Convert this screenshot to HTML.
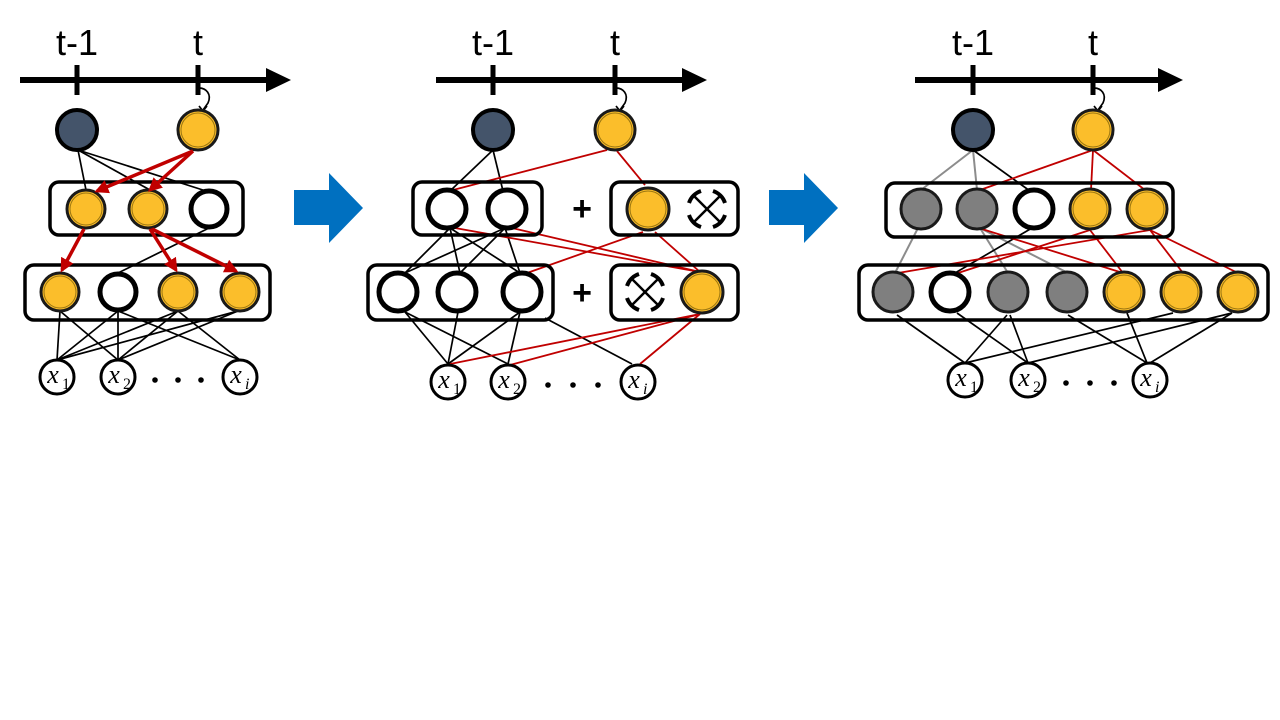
<!DOCTYPE html>
<html><head><meta charset="utf-8"><style>
html,body{margin:0;padding:0;background:#fff;}
svg{display:block;}
text{font-family:"Liberation Sans",sans-serif;}
.ax{stroke:#000;stroke-width:6;}
.tk{stroke:#000;stroke-width:5;}
.bx{fill:none;stroke:#000;stroke-width:3.5;}
.w{fill:#fff;stroke:#000;stroke-width:5;}
.y{fill:#FBBE2B;stroke:#1a1a1a;stroke-width:3;}
.yi{fill:none;stroke:#9a7510;stroke-width:1;}
.g{fill:#7f7f7f;stroke:#1a1a1a;stroke-width:3;}
.d{fill:#44546A;stroke:#000;stroke-width:4;}
.in{fill:#fff;stroke:#000;stroke-width:3;}
.bl{stroke:#000;stroke-width:1.7;fill:none;}
.rd{stroke:#C00000;stroke-width:1.8;fill:none;}
.gr{stroke:#8c8c8c;stroke-width:2;fill:none;}
.ra{stroke:#C00000;stroke-width:3.5;fill:none;marker-end:url(#ah);}
.lbl{font-size:36px;text-anchor:middle;}
.xl{font-family:"Liberation Serif",serif;font-style:italic;font-size:26px;text-anchor:middle;}
.sub{font-family:"Liberation Serif",serif;font-size:16px;font-style:italic;}
.subn{font-family:"Liberation Serif",serif;font-size:16px;}
</style></head><body>
<svg width="1280" height="720" viewBox="0 0 1280 720" xmlns="http://www.w3.org/2000/svg">
<defs>
<marker id="ah" markerWidth="4" markerHeight="4" refX="3.2" refY="2" orient="auto" markerUnits="strokeWidth"><path d="M0,0 L4,2 L0,4 z" fill="#C00000"/></marker>
<g id="drop">
<line x1="-14" y1="-14" x2="14" y2="14" stroke="#000" stroke-width="2.5"/>
<line x1="14" y1="-14" x2="-14" y2="14" stroke="#000" stroke-width="2.5"/>
<path d="M-6,-18 A19,19 0 0 0 -18,-6 M6,-18 A19,19 0 0 1 18,-6 M-18,6 A19,19 0 0 0 -6,18 M18,6 A19,19 0 0 1 6,18" fill="none" stroke="#000" stroke-width="4"/>
</g>
</defs>

<polygon points="294,190 329,190 329,173 363,208 329,243 329,225 294,225" fill="#0070C0"/>
<polygon points="769,190 804,190 804,173 838,208 804,243 804,225 769,225" fill="#0070C0"/>

<!-- PANEL 1 -->
<text x="77" y="55" class="lbl">t-1</text>
<text x="198" y="55" class="lbl">t</text>
<line x1="20" y1="80" x2="270" y2="80" class="ax"/>
<polygon points="266,68 291,80 266,92" fill="#000"/>
<line x1="77" y1="65" x2="77" y2="95" class="tk"/>
<line x1="198" y1="65" x2="198" y2="95" class="tk"/>
<path d="M199,88 C206,88 212,94 208,103 L203,110" class="bl"/>
<path d="M199,106 L203,111 L207,106" class="bl"/>

<line x1="78" y1="150" x2="86" y2="190" class="bl"/>
<line x1="78" y1="150" x2="150" y2="190" class="bl"/>
<line x1="78" y1="150" x2="206" y2="191" class="bl"/>
<line x1="209" y1="228" x2="118" y2="273" class="bl"/>
<line x1="60" y1="311" x2="57" y2="360" class="bl"/>
<line x1="60" y1="311" x2="118" y2="360" class="bl"/>
<line x1="118" y1="311" x2="57" y2="360" class="bl"/>
<line x1="118" y1="311" x2="118" y2="360" class="bl"/>
<line x1="118" y1="311" x2="240" y2="360" class="bl"/>
<line x1="178" y1="311" x2="57" y2="360" class="bl"/>
<line x1="178" y1="311" x2="118" y2="360" class="bl"/>
<line x1="178" y1="311" x2="240" y2="360" class="bl"/>
<line x1="238" y1="311" x2="57" y2="360" class="bl"/>
<line x1="238" y1="311" x2="118" y2="360" class="bl"/>

<rect x="50" y="182" width="193" height="53" rx="9" class="bx"/>
<rect x="25" y="265" width="245" height="55" rx="9" class="bx"/>

<circle cx="77" cy="130" r="20" class="d"/>
<circle cx="198" cy="130" r="20" class="y"/><circle cx="198" cy="130" r="17" class="yi"/>
<circle cx="86" cy="209" r="19" class="y"/><circle cx="86" cy="209" r="16" class="yi"/>
<circle cx="148" cy="209" r="19" class="y"/><circle cx="148" cy="209" r="16" class="yi"/>
<circle cx="209" cy="209" r="18" class="w"/>
<circle cx="60" cy="292" r="19" class="y"/><circle cx="60" cy="292" r="16" class="yi"/>
<circle cx="118" cy="292" r="18" class="w"/>
<circle cx="178" cy="292" r="19" class="y"/><circle cx="178" cy="292" r="16" class="yi"/>
<circle cx="240" cy="292" r="19" class="y"/><circle cx="240" cy="292" r="16" class="yi"/>

<line x1="193" y1="151" x2="97" y2="191" class="ra"/>
<line x1="193" y1="151" x2="150" y2="190" class="ra"/>
<line x1="84" y1="229" x2="62" y2="270" class="ra"/>
<line x1="150" y1="229" x2="176" y2="270" class="ra"/>
<line x1="152" y1="229" x2="236" y2="271" class="ra"/>

<circle cx="57" cy="377" r="17" class="in"/><text x="53" y="383" class="xl">x</text><text x="62" y="389" class="subn">1</text>
<circle cx="118" cy="377" r="17" class="in"/><text x="114" y="383" class="xl">x</text><text x="123" y="389" class="subn">2</text>
<circle cx="240" cy="377" r="17" class="in"/><text x="236" y="383" class="xl">x</text><text x="245" y="389" class="sub">i</text>
<circle cx="155" cy="380" r="2.8"/><circle cx="178" cy="380" r="2.8"/><circle cx="201" cy="380" r="2.8"/>

<!-- PANEL 2 -->
<text x="493" y="55" class="lbl">t-1</text>
<text x="615" y="55" class="lbl">t</text>
<line x1="436" y1="80" x2="686" y2="80" class="ax"/>
<polygon points="682,68 707,80 682,92" fill="#000"/>
<line x1="493" y1="65" x2="493" y2="95" class="tk"/>
<line x1="615" y1="65" x2="615" y2="95" class="tk"/>
<path d="M616,88 C623,88 629,94 625,103 L620,110" class="bl"/>
<path d="M616,106 L620,111 L624,106" class="bl"/>

<line x1="493" y1="150" x2="450" y2="191" class="bl"/>
<line x1="493" y1="150" x2="503" y2="191" class="bl"/>
<line x1="450" y1="228" x2="405" y2="273" class="bl"/>
<line x1="450" y1="228" x2="460" y2="273" class="bl"/>
<line x1="450" y1="228" x2="520" y2="273" class="bl"/>
<line x1="505" y1="228" x2="405" y2="273" class="bl"/>
<line x1="505" y1="228" x2="460" y2="273" class="bl"/>
<line x1="505" y1="228" x2="520" y2="273" class="bl"/>
<line x1="405" y1="312" x2="448" y2="364" class="bl"/>
<line x1="405" y1="312" x2="508" y2="364" class="bl"/>
<line x1="458" y1="312" x2="448" y2="364" class="bl"/>
<line x1="520" y1="312" x2="448" y2="364" class="bl"/>
<line x1="520" y1="312" x2="508" y2="364" class="bl"/>
<line x1="545" y1="318" x2="632" y2="364" class="bl"/>

<line x1="607" y1="150" x2="453" y2="190" class="rd"/>
<line x1="617" y1="151" x2="645" y2="185" class="rd"/>
<line x1="455" y1="228" x2="700" y2="272" class="rd"/>
<line x1="512" y1="228" x2="700" y2="272" class="rd"/>
<line x1="643" y1="232" x2="527" y2="273" class="rd"/>
<line x1="655" y1="232" x2="700" y2="272" class="rd"/>
<line x1="700" y1="314" x2="450" y2="364" class="rd"/>
<line x1="700" y1="314" x2="510" y2="365" class="rd"/>
<line x1="700" y1="314" x2="640" y2="364" class="rd"/>

<rect x="413" y="182" width="129" height="53" rx="9" class="bx"/>
<rect x="611" y="182" width="127" height="53" rx="9" class="bx"/>
<rect x="368" y="265" width="185" height="55" rx="9" class="bx"/>
<rect x="611" y="265" width="127" height="55" rx="9" class="bx"/>
<text x="582" y="220" class="lbl" style="font-size:34px;font-weight:bold">+</text>
<text x="582" y="304" class="lbl" style="font-size:34px;font-weight:bold">+</text>

<circle cx="493" cy="130" r="20" class="d"/>
<circle cx="615" cy="130" r="20" class="y"/><circle cx="615" cy="130" r="17" class="yi"/>
<circle cx="447" cy="209" r="19" class="w"/>
<circle cx="507" cy="209" r="19" class="w"/>
<circle cx="648" cy="209" r="21" class="y"/><circle cx="648" cy="209" r="18" class="yi"/>
<use href="#drop" x="707" y="209"/>
<circle cx="398" cy="292" r="19" class="w"/>
<circle cx="457" cy="292" r="19" class="w"/>
<circle cx="522" cy="292" r="19" class="w"/>
<use href="#drop" x="645" y="292"/>
<circle cx="702" cy="292" r="21" class="y"/><circle cx="702" cy="292" r="18" class="yi"/>

<circle cx="448" cy="382" r="17" class="in"/><text x="444" y="388" class="xl">x</text><text x="453" y="394" class="subn">1</text>
<circle cx="508" cy="382" r="17" class="in"/><text x="504" y="388" class="xl">x</text><text x="513" y="394" class="subn">2</text>
<circle cx="638" cy="382" r="17" class="in"/><text x="634" y="388" class="xl">x</text><text x="643" y="394" class="sub">i</text>
<circle cx="548" cy="385" r="2.8"/><circle cx="573" cy="385" r="2.8"/><circle cx="598" cy="385" r="2.8"/>

<!-- PANEL 3 -->
<text x="973" y="55" class="lbl">t-1</text>
<text x="1093" y="55" class="lbl">t</text>
<line x1="915" y1="80" x2="1162" y2="80" class="ax"/>
<polygon points="1158,68 1183,80 1158,92" fill="#000"/>
<line x1="973" y1="65" x2="973" y2="95" class="tk"/>
<line x1="1093" y1="65" x2="1093" y2="95" class="tk"/>
<path d="M1094,88 C1101,88 1107,94 1103,103 L1098,110" class="bl"/>
<path d="M1094,106 L1098,111 L1102,106" class="bl"/>

<line x1="973" y1="150" x2="921" y2="190" class="gr"/>
<line x1="973" y1="150" x2="977" y2="190" class="gr"/>
<line x1="973" y1="150" x2="1030" y2="191" class="bl"/>
<line x1="918" y1="228" x2="895" y2="273" class="gr"/>
<line x1="980" y1="228" x2="1008" y2="273" class="gr"/>
<line x1="980" y1="228" x2="1068" y2="273" class="gr"/>
<line x1="1032" y1="228" x2="955" y2="273" class="bl"/>
<line x1="1093" y1="150" x2="980" y2="190" class="rd"/>
<line x1="1093" y1="150" x2="1091" y2="190" class="rd"/>
<line x1="1093" y1="150" x2="1145" y2="190" class="rd"/>
<line x1="982" y1="229" x2="1123" y2="273" class="rd"/>
<line x1="1090" y1="230" x2="958" y2="273" class="rd"/>
<line x1="1090" y1="230" x2="1123" y2="273" class="rd"/>
<line x1="1150" y1="230" x2="898" y2="273" class="rd"/>
<line x1="1150" y1="230" x2="1183" y2="273" class="rd"/>
<line x1="1150" y1="230" x2="1238" y2="273" class="rd"/>

<line x1="897" y1="315" x2="965" y2="363" class="bl"/>
<line x1="957" y1="313" x2="1028" y2="363" class="bl"/>
<line x1="1007" y1="315" x2="965" y2="363" class="bl"/>
<line x1="1010" y1="315" x2="1028" y2="363" class="bl"/>
<line x1="1068" y1="315" x2="1147" y2="363" class="bl"/>
<line x1="1127" y1="313" x2="1147" y2="363" class="bl"/>
<line x1="1173" y1="313" x2="965" y2="363" class="bl"/>
<line x1="1232" y1="313" x2="1028" y2="363" class="bl"/>
<line x1="1232" y1="313" x2="1150" y2="363" class="bl"/>

<rect x="886" y="183" width="287" height="54" rx="9" class="bx"/>
<rect x="859" y="265" width="409" height="55" rx="9" class="bx"/>

<circle cx="973" cy="130" r="20" class="d"/>
<circle cx="1093" cy="130" r="20" class="y"/><circle cx="1093" cy="130" r="17" class="yi"/>
<circle cx="921" cy="209" r="20" class="g"/>
<circle cx="977" cy="209" r="20" class="g"/>
<circle cx="1034" cy="209" r="19" class="w"/>
<circle cx="1090" cy="209" r="20" class="y"/><circle cx="1090" cy="209" r="17" class="yi"/>
<circle cx="1147" cy="209" r="20" class="y"/><circle cx="1147" cy="209" r="17" class="yi"/>
<circle cx="893" cy="292" r="20" class="g"/>
<circle cx="950" cy="292" r="19" class="w"/>
<circle cx="1008" cy="292" r="20" class="g"/>
<circle cx="1067" cy="292" r="20" class="g"/>
<circle cx="1124" cy="292" r="20" class="y"/><circle cx="1124" cy="292" r="17" class="yi"/>
<circle cx="1181" cy="292" r="20" class="y"/><circle cx="1181" cy="292" r="17" class="yi"/>
<circle cx="1238" cy="292" r="20" class="y"/><circle cx="1238" cy="292" r="17" class="yi"/>

<circle cx="965" cy="380" r="17" class="in"/><text x="961" y="386" class="xl">x</text><text x="970" y="392" class="subn">1</text>
<circle cx="1028" cy="380" r="17" class="in"/><text x="1024" y="386" class="xl">x</text><text x="1033" y="392" class="subn">2</text>
<circle cx="1150" cy="380" r="17" class="in"/><text x="1146" y="386" class="xl">x</text><text x="1155" y="392" class="sub">i</text>
<circle cx="1066" cy="383" r="2.8"/><circle cx="1090" cy="383" r="2.8"/><circle cx="1114" cy="383" r="2.8"/>
</svg>
</body></html>
